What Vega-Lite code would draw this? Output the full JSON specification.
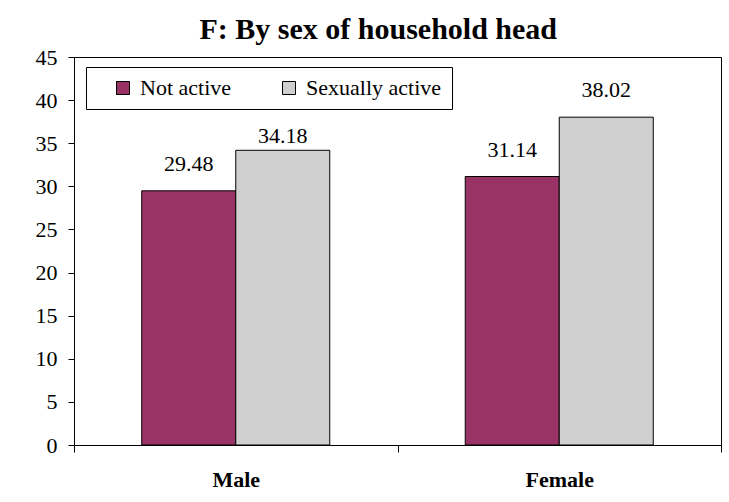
{
  "$schema": "https://vega.github.io/schema/vega-lite/v6.json",
  "autosize": {"type": "none"},
  "width": 647,
  "height": 388,
  "padding": {"left": 74, "top": 57, "right": 8, "bottom": 57},
  "background": "white",
  "title": {
    "text": "F: By sex of household head",
    "font": "Liberation Serif, Times New Roman, serif",
    "fontSize": 30,
    "fontWeight": "bold",
    "color": "black",
    "anchor": "middle",
    "frame": "bounds",
    "baseline": "alphabetic",
    "offset": 19,
    "dy": 42
  },
  "data": {
    "values": [
      {"sex": "Male", "status": "Not active", "value": 29.48},
      {"sex": "Male", "status": "Sexually active", "value": 34.18},
      {"sex": "Female", "status": "Not active", "value": 31.14},
      {"sex": "Female", "status": "Sexually active", "value": 38.02}
    ]
  },
  "encoding": {
    "x": {
      "field": "sex",
      "type": "nominal",
      "sort": ["Male", "Female"],
      "scale": {"paddingInner": 0, "paddingOuter": 0},
      "axis": {
        "title": null,
        "labelAngle": 0,
        "labelFont": "Liberation Serif, Times New Roman, serif",
        "labelFontSize": 22,
        "labelFontWeight": "bold",
        "labelColor": "black",
        "labelPadding": 17,
        "tickBand": "extent",
        "tickExtra": true,
        "tickSize": 7,
        "tickColor": "black",
        "domainColor": "black"
      }
    },
    "xOffset": {"field": "status", "type": "nominal", "scale": {"paddingInner": 0, "paddingOuter": 0.7207}},
    "y": {
      "field": "value",
      "type": "quantitative",
      "scale": {"domain": [0, 45], "nice": false},
      "axis": {
        "title": null,
        "values": [0, 5, 10, 15, 20, 25, 30, 35, 40, 45],
        "grid": false,
        "labelFont": "Liberation Serif, Times New Roman, serif",
        "labelFontSize": 22,
        "labelColor": "black",
        "labelPadding": 11,
        "tickSize": 6,
        "tickColor": "black",
        "domainColor": "black"
      }
    }
  },
  "layer": [
    {
      "mark": {"type": "bar", "stroke": "black", "strokeWidth": 1},
      "encoding": {
        "color": {
          "field": "status",
          "type": "nominal",
          "scale": {"domain": ["Not active", "Sexually active"], "range": ["#993366", "#cfcfcf"]},
          "legend": {
            "title": null,
            "orient": "none",
            "legendX": 12,
            "legendY": 10,
            "direction": "horizontal",
            "symbolType": "square",
            "symbolSize": 169,
            "symbolStrokeColor": "black",
            "symbolStrokeWidth": 1,
            "symbolOpacity": 1,
            "labelFont": "Liberation Serif, Times New Roman, serif",
            "labelFontSize": 22,
            "labelColor": "black",
            "labelOffset": 6,
            "labelLimit": 300,
            "columnPadding": 30,
            "padding": 10,
            "symbolOffset": 16,
            "fillColor": "white",
            "strokeColor": "black"
          }
        }
      }
    },
    {
      "transform": [{"filter": "datum.value != 34.18"}],
      "mark": {
        "type": "text",
        "font": "Liberation Serif, Times New Roman, serif",
        "fontSize": 22,
        "color": "black",
        "baseline": "alphabetic",
        "dy": -20
      },
      "encoding": {
        "text": {"field": "value", "type": "quantitative", "format": ".2f"}
      }
    },
    {
      "transform": [{"filter": "datum.value == 34.18"}],
      "mark": {
        "type": "text",
        "font": "Liberation Serif, Times New Roman, serif",
        "fontSize": 22,
        "color": "black",
        "baseline": "alphabetic",
        "dy": -7.5
      },
      "encoding": {
        "text": {"field": "value", "type": "quantitative", "format": ".2f"}
      }
    }
  ],
  "config": {
    "view": {"stroke": "black", "strokeWidth": 1}
  }
}
